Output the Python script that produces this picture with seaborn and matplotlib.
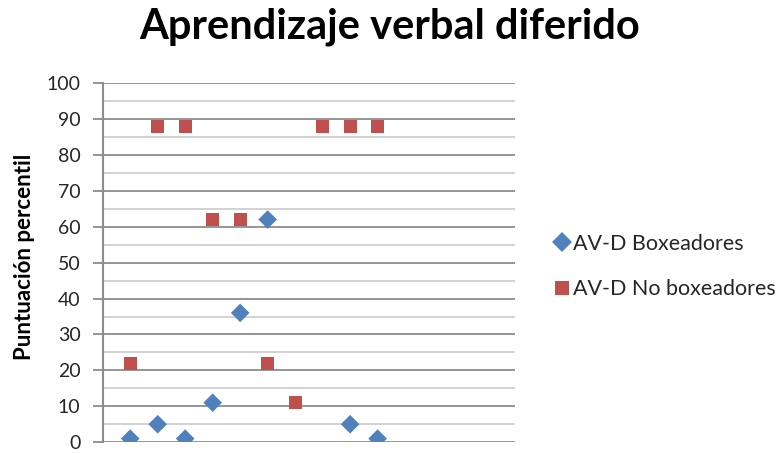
import numpy as np
import pandas as pd
import matplotlib
matplotlib.use('Agg')
import matplotlib.pyplot as plt
import seaborn as sns

# Data
sujetos = list(range(1, 11))
boxeadores = [1, 5, 1, 11, 36, 62, np.nan, np.nan, 5, 1]
no_boxeadores = [22, 88, 88, 62, 62, 22, 11, 88, 88, 88]
series_names = ['AV-D Boxeadores', 'AV-D No boxeadores']
y_ticks = list(range(0, 101, 10))

df = pd.DataFrame({
    'x': sujetos * 2,
    'y': boxeadores + no_boxeadores,
    'serie': [series_names[0]] * len(sujetos) + [series_names[1]] * len(sujetos),
}).dropna()

sns.set_style('white')
plt.rcParams['font.family'] = ['Lato', 'DejaVu Sans']

fig = plt.figure(figsize=(7.84, 4.54), dpi=100)
ax = fig.add_axes([0.131, 0.026, 0.526, 0.791])

# gridlines: darker at 10s, lighter at 5s
for v in range(0, 101, 5):
    ax.axhline(v, color='#8c8c8c' if v % 10 == 0 else '#cfcfcf', lw=1.3, zorder=0)

sns.scatterplot(data=df, x='x', y='y', hue='serie', style='serie',
                palette={series_names[0]: '#4F81BD', series_names[1]: '#C0504D'},
                markers={series_names[0]: 'D', series_names[1]: 's'},
                s=150, edgecolor='none', linewidth=0, ax=ax, zorder=3)
# marker sizes per series
for coll, lab in zip(ax.collections, series_names):
    coll.set_sizes([90 if lab == series_names[0] else 190])

ax.set_xlim(0, 15)
ax.set_ylim(0, 100)
ax.set_yticks(y_ticks)
ax.set_xticks([])
ax.tick_params(axis='y', labelsize=14, length=7, width=1.3, color='#8c8c8c',
               direction='out', left=True, pad=9, labelcolor='#262626')
ax.set_xlabel('')
ax.set_ylabel('')
for side in ['top', 'right', 'bottom']:
    ax.spines[side].set_visible(False)
ax.spines['left'].set_color('#8c8c8c')
ax.spines['left'].set_linewidth(1.5)

fig.text(0.497, 0.942, 'Aprendizaje verbal diferido', ha='center', va='center',
         fontsize=30, fontweight='bold', color='black')
fig.text(0.031, 0.434, 'Puntuación percentil', rotation=90, ha='center', va='center',
         fontsize=16, fontweight='bold', color='black')

handles, labels = ax.get_legend_handles_labels()
leg = ax.legend(handles, labels, loc='center left', bbox_to_anchor=(0.68, 0.413),
                bbox_transform=fig.transFigure, frameon=False, fontsize=15.5,
                labelspacing=1.2, handletextpad=0.05, handlelength=0.9, markerscale=0.85)
for t in leg.get_texts():
    t.set_color('#262626')

fig.savefig('out.png', dpi=100)
